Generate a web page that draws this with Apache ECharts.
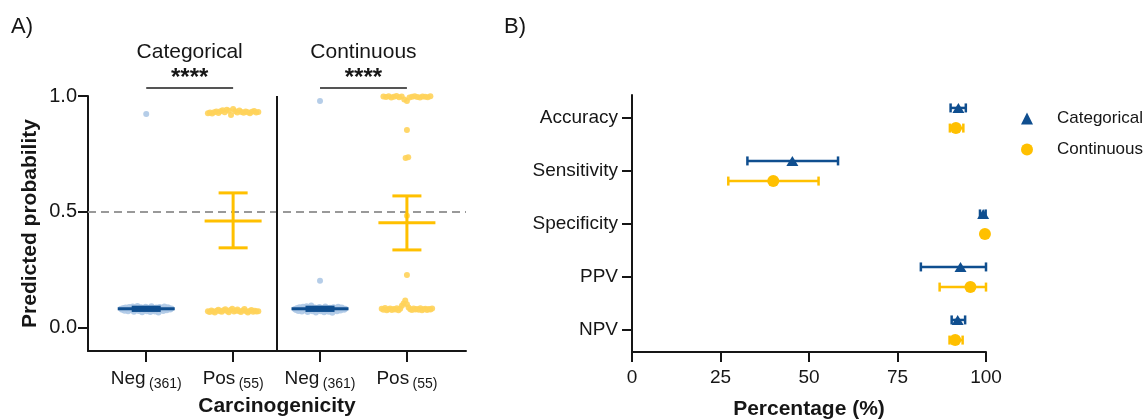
<!DOCTYPE html>
<html>
<head>
<meta charset="utf-8">
<script src="https://cdn.jsdelivr.net/npm/echarts@6/dist/echarts.min.js"></script>
<style>
  html, body { margin: 0; padding: 0; background: #fff; }
  #chart { width: 1147px; height: 420px; }
</style>
</head>
<body>
<div id="chart"></div>
<script>
// ---- panel A: predicted probability per group ----
const groupPos = [1, 2, 3, 4];
const groupLabels = ['Neg', 'Pos', 'Neg', 'Pos'];
const groupCounts = ['(361)', '(55)', '(361)', '(55)'];
const panelTitles = ['Categorical', 'Continuous'];
const sigPairs = [[1, 2], [3, 4]];
const sigText = ['****', '****'];

// visible points (the negative blobs are a reduced set, they overlap completely)
const catNeg = [0.922, 0.082, 0.078, 0.085, 0.074, 0.088, 0.080, 0.071, 0.090, 0.083, 0.076, 0.092, 0.069,
  0.086, 0.079, 0.094, 0.073, 0.081, 0.089, 0.067, 0.084, 0.077, 0.091, 0.072, 0.087, 0.080, 0.068, 0.093,
  0.075, 0.085, 0.070, 0.088, 0.082, 0.066, 0.090, 0.078, 0.086, 0.073, 0.092, 0.081, 0.076, 0.089, 0.084,
  0.079, 0.083];
const catPos = [0.926, 0.929, 0.924, 0.930, 0.933, 0.927, 0.934, 0.938, 0.930, 0.941, 0.936, 0.918, 0.944,
  0.934, 0.929, 0.937, 0.931, 0.928, 0.933, 0.930, 0.926, 0.932, 0.935, 0.929, 0.931,
  0.072, 0.068, 0.075, 0.070, 0.066, 0.074, 0.078, 0.071, 0.069, 0.076, 0.080, 0.073, 0.067, 0.077, 0.082,
  0.070, 0.074, 0.079, 0.072, 0.068, 0.075, 0.081, 0.071, 0.066, 0.073, 0.077, 0.069, 0.074, 0.070, 0.072];
const contNeg = [0.978, 0.203, 0.081, 0.077, 0.086, 0.073, 0.089, 0.080, 0.070, 0.091, 0.083, 0.075, 0.093,
  0.068, 0.087, 0.078, 0.096, 0.072, 0.082, 0.088, 0.066, 0.085, 0.076, 0.090, 0.071, 0.086, 0.079, 0.067,
  0.092, 0.074, 0.084, 0.069, 0.087, 0.081, 0.065, 0.089, 0.077, 0.085, 0.072, 0.091, 0.080, 0.075, 0.088,
  0.083, 0.078, 0.082];
const contPos = [0.998, 0.996, 0.999, 0.994, 0.997, 1.0, 0.995, 0.998, 0.985, 0.978, 0.993, 0.997, 0.999,
  0.996, 0.994, 0.998, 0.997, 0.995, 0.999,
  0.853, 0.733, 0.736, 0.483, 0.228,
  0.082, 0.078, 0.085, 0.076, 0.080, 0.083, 0.077, 0.081, 0.079, 0.084, 0.076, 0.082, 0.095, 0.105, 0.118,
  0.102, 0.088, 0.080, 0.077, 0.083, 0.079, 0.081, 0.078, 0.084, 0.076, 0.080, 0.082, 0.077, 0.081, 0.079,
  0.083];

// mean and error bar per group (Neg cat, Pos cat, Neg cont, Pos cont)
const aMean = [0.082, 0.461, 0.082, 0.453];
const aLow = [0.075, 0.345, 0.075, 0.336];
const aHigh = [0.089, 0.582, 0.089, 0.569];

// ---- panel B: performance with 95% CI ----
const metrics = ['Accuracy', 'Sensitivity', 'Specificity', 'PPV', 'NPV'];
const catEst = [92.2, 45.3, 99.2, 92.8, 92.0];
const catLow = [90.0, 32.6, 98.3, 81.6, 90.3];
const catHigh = [94.3, 58.2, 99.9, 100, 94.1];
const contEst = [91.5, 39.9, 99.7, 95.6, 91.3];
const contLow = [89.8, 27.2, 99.2, 86.9, 89.7];
const contHigh = [93.6, 52.7, 100, 100, 93.4];

const FONT = 'Liberation Sans, Arial, sans-serif';
const INK = '#161616';

// spread points that share a value side by side (beeswarm-like row)
function swarm(cx, vals) {
  const clusters = [];
  vals.forEach(v => {
    let c = clusters.find(c => Math.abs(c.ref - v) < 0.06);
    if (!c) { c = { ref: v, items: [] }; clusters.push(c); }
    c.items.push(v);
  });
  const pts = [];
  clusters.forEach(c => {
    const n = c.items.length;
    const step = n > 1 ? Math.min(0.03, 0.58 / (n - 1)) : 0;
    c.items.forEach((v, i) => pts.push([cx + (i - (n - 1) / 2) * step, v]));
  });
  return pts;
}

function seg(a, b, style) {
  return { type: 'line', shape: { x1: a[0], y1: a[1], x2: b[0], y2: b[1] }, style: style };
}

// mean line + sem bar for panel A
function meanBar(params, api) {
  const cx = api.value(0), m = api.value(1), lo = api.value(2), hi = api.value(3);
  const st = { stroke: api.visual('color'), lineWidth: 3 };
  return {
    type: 'group',
    children: [
      seg(api.coord([cx - 0.328, m]), api.coord([cx + 0.328, m]), st),
      seg(api.coord([cx, lo]), api.coord([cx, hi]), st),
      seg(api.coord([cx - 0.167, lo]), api.coord([cx + 0.167, lo]), st),
      seg(api.coord([cx - 0.167, hi]), api.coord([cx + 0.167, hi]), st)
    ]
  };
}

// significance bracket, stars and panel title
function sigMark(params, api) {
  const a = api.value(0), b = api.value(1), i = params.dataIndex;
  const mid = (a + b) / 2;
  const pTitle = api.coord([mid, 1.19]);
  const pStar = api.coord([mid, 1.075]);
  return {
    type: 'group',
    children: [
      seg(api.coord([a, 1.035]), api.coord([b, 1.035]), { stroke: '#555', lineWidth: 2 }),
      { type: 'text', x: pStar[0], y: pStar[1],
        style: { text: sigText[i], fill: INK, font: 'bold 24px ' + FONT, align: 'center', verticalAlign: 'middle' } },
      { type: 'text', x: pTitle[0], y: pTitle[1],
        style: { text: panelTitles[i], fill: INK, font: '21px ' + FONT, align: 'center', verticalAlign: 'middle' } }
    ]
  };
}

// horizontal CI with caps for panel B
function ciBar(params, api) {
  const p1 = api.coord([api.value(0), api.value(2)]);
  const p2 = api.coord([api.value(1), api.value(2)]);
  const st = { stroke: api.visual('color'), lineWidth: 2.5 };
  return {
    type: 'group',
    children: [
      seg(p1, p2, st),
      seg([p1[0], p1[1] - 4.5], [p1[0], p1[1] + 4.5], st),
      seg([p2[0], p2[1] - 4.5], [p2[0], p2[1] + 4.5], st)
    ]
  };
}

const BLUE_LIGHT = '#adc8e6';
const BLUE = '#0f4e8f';
const YELLOW_LIGHT = '#ffd35a';
const YELLOW = '#ffc000';
const OFF = 0.19;

const chart = echarts.init(document.getElementById('chart'), null, { renderer: 'canvas' });

const option = {
  backgroundColor: '#fff',
  animation: false,
  textStyle: { fontFamily: FONT, color: INK },
  graphic: [
    { type: 'text', left: 11, top: 16, style: { text: 'A)', font: '22px ' + FONT, fill: INK } },
    { type: 'text', left: 504, top: 16, style: { text: 'B)', font: '22px ' + FONT, fill: INK } }
  ],
  legend: {
    orient: 'vertical',
    left: 1016,
    top: 105,
    itemWidth: 12,
    itemHeight: 12,
    itemGap: 14,
    textStyle: { fontSize: 17, color: INK, padding: [0, 0, 0, 19] },
    data: [{ name: 'Categorical', icon: 'triangle' }, { name: 'Continuous', icon: 'circle' }]
  },
  grid: [
    { left: 88, top: 96, width: 378, height: 255, outerBoundsMode: 'none' },
    { left: 632, top: 95, width: 354, height: 257, outerBoundsMode: 'none' }
  ],
  xAxis: [
    {
      gridIndex: 0, type: 'value', min: 0.33, max: 4.68,
      axisLine: { onZero: false, lineStyle: { color: INK, width: 2 } },
      axisTick: { customValues: groupPos, length: 11, lineStyle: { color: INK, width: 2 } },
      axisLabel: {
        customValues: groupPos, margin: 15,
        formatter: v => '{m|' + groupLabels[v - 1] + '} {s|' + groupCounts[v - 1] + '}',
        rich: {
          m: { fontSize: 19, color: INK, fontFamily: FONT },
          s: { fontSize: 14, color: INK, fontFamily: FONT, padding: [11, 0, 0, 0] }
        }
      },
      splitLine: { show: false },
      name: 'Carcinogenicity', nameLocation: 'middle', nameGap: 45,
      nameTextStyle: { fontSize: 21, fontWeight: 'bold', color: INK }
    },
    {
      gridIndex: 1, type: 'value', min: 0, max: 100, interval: 25,
      axisLine: { onZero: false, lineStyle: { color: INK, width: 2 } },
      axisTick: { length: 10, lineStyle: { color: INK, width: 2 } },
      axisLabel: { fontSize: 19, color: INK, margin: 16 },
      splitLine: { show: false },
      name: 'Percentage (%)', nameLocation: 'middle', nameGap: 47,
      nameTextStyle: { fontSize: 21, fontWeight: 'bold', color: INK }
    }
  ],
  yAxis: [
    {
      gridIndex: 0, type: 'value', min: -0.1, max: 1.0,
      axisLine: { show: true, onZero: false, lineStyle: { color: INK, width: 2 } },
      axisTick: { show: true, customValues: [0, 0.5, 1], length: 10, lineStyle: { color: INK, width: 2 } },
      axisLabel: { customValues: [0, 0.5, 1], fontSize: 20, color: INK, margin: 11, formatter: v => v.toFixed(1) },
      splitLine: { show: false },
      name: 'Predicted probability', nameLocation: 'middle', nameGap: 47,
      nameTextStyle: { fontSize: 21, fontWeight: 'bold', color: INK }
    },
    {
      gridIndex: 1, type: 'value', inverse: true, min: -0.434, max: 4.415,
      axisLine: { show: true, onZero: false, lineStyle: { color: INK, width: 2 } },
      axisTick: { show: true, customValues: [0, 1, 2, 3, 4], length: 10, lineStyle: { color: INK, width: 2 } },
      axisLabel: { customValues: [0, 1, 2, 3, 4], fontSize: 19, color: INK, margin: 14, formatter: v => metrics[v] },
      splitLine: { show: false }
    }
  ],
  series: [
    {
      name: 'Neg points', type: 'scatter', xAxisIndex: 0, yAxisIndex: 0,
      symbolSize: 6, itemStyle: { color: BLUE_LIGHT, opacity: 0.9 },
      data: swarm(1, catNeg).concat(swarm(3, contNeg)),
      markLine: {
        silent: true, symbol: 'none', label: { show: false },
        data: [
          { yAxis: 0.5, lineStyle: { color: '#999', width: 2, type: [8, 5] } },
          { xAxis: 2.5, lineStyle: { color: INK, width: 2, type: 'solid' } }
        ]
      }
    },
    {
      name: 'Pos points', type: 'scatter', xAxisIndex: 0, yAxisIndex: 0,
      symbolSize: 6, itemStyle: { color: YELLOW_LIGHT, opacity: 0.9 },
      data: swarm(2, catPos).concat(swarm(4, contPos))
    },
    {
      name: 'Neg mean', type: 'custom', xAxisIndex: 0, yAxisIndex: 0, z: 5,
      itemStyle: { color: BLUE }, renderItem: meanBar, encode: { x: 0, y: [1, 2, 3] },
      data: [0, 2].map(i => [groupPos[i], aMean[i], aLow[i], aHigh[i]])
    },
    {
      name: 'Pos mean', type: 'custom', xAxisIndex: 0, yAxisIndex: 0, z: 5,
      itemStyle: { color: YELLOW }, renderItem: meanBar, encode: { x: 0, y: [1, 2, 3] },
      data: [1, 3].map(i => [groupPos[i], aMean[i], aLow[i], aHigh[i]])
    },
    {
      name: 'sig', type: 'custom', xAxisIndex: 0, yAxisIndex: 0, clip: false,
      renderItem: sigMark, encode: { x: [0, 1] },
      data: sigPairs
    },
    {
      name: 'Categorical CI', type: 'custom', xAxisIndex: 1, yAxisIndex: 1,
      itemStyle: { color: BLUE }, renderItem: ciBar, encode: { x: [0, 1], y: 2 },
      data: metrics.map((m, i) => [catLow[i], catHigh[i], i - OFF])
    },
    {
      name: 'Continuous CI', type: 'custom', xAxisIndex: 1, yAxisIndex: 1,
      itemStyle: { color: YELLOW }, renderItem: ciBar, encode: { x: [0, 1], y: 2 },
      data: metrics.map((m, i) => [contLow[i], contHigh[i], i + OFF])
    },
    {
      name: 'Categorical', type: 'scatter', xAxisIndex: 1, yAxisIndex: 1, z: 5,
      symbol: 'triangle', symbolSize: [12, 10], itemStyle: { color: BLUE, opacity: 1 },
      data: metrics.map((m, i) => [catEst[i], i - OFF])
    },
    {
      name: 'Continuous', type: 'scatter', xAxisIndex: 1, yAxisIndex: 1, z: 5,
      symbol: 'circle', symbolSize: 12, itemStyle: { color: YELLOW, opacity: 1 },
      data: metrics.map((m, i) => [contEst[i], i + OFF])
    }
  ]
};

chart.setOption(option);
</script>
</body>
</html>
